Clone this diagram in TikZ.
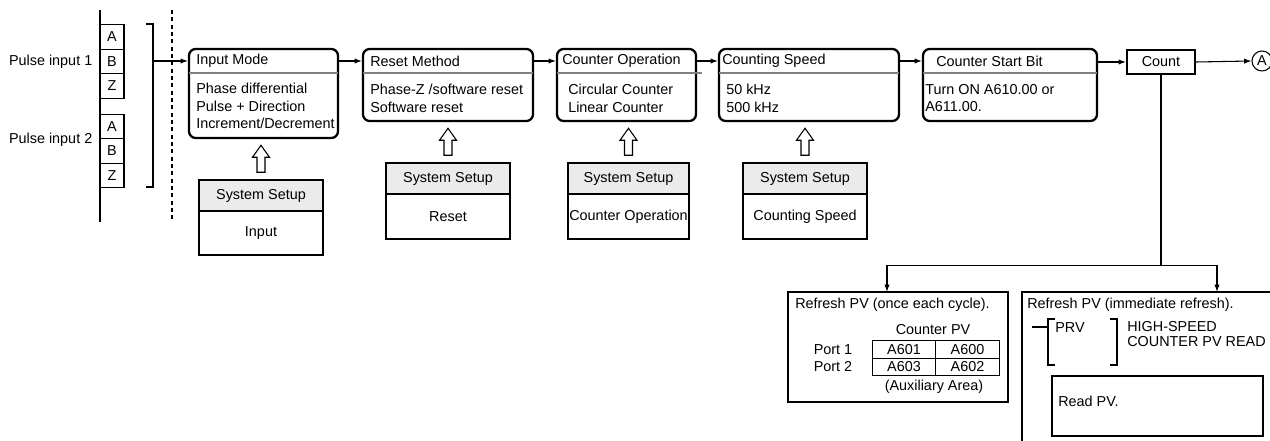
\documentclass[tikz,border=0pt]{standalone}
\usepackage{fontspec}
\setmainfont{Liberation Sans}
\usetikzlibrary{arrows.meta,fit}

\begin{document}
\begin{tikzpicture}[x=0.75pt, y=-0.75pt, >={Latex[length=5.5pt,width=4pt]},
    every node/.style={font=\fontsize{10.8}{13.1}\selectfont},
    modebox/.style={draw, line width=1.7pt, rounded corners=5pt, inner sep=0pt},
    divider/.style={black!50, line width=1.2pt},
    setupbox/.style={draw, line width=1.1pt, inner sep=0pt},
    cell/.style={draw, line width=0.8pt, minimum width=18pt, minimum height=18.4pt, inner sep=0pt},
    tcell/.style={draw, line width=0.8pt, minimum width=47.5pt, minimum height=13.1pt, inner sep=0pt},
    pvbox/.style={draw, line width=1.8pt, inner sep=0pt},
    link/.style={->, line width=0.8pt},
    txt/.style={anchor=west, inner sep=0pt},
    body/.style={anchor=north west, inner sep=0pt, align=left}]
    \useasboundingbox (0,0) rectangle (1270,441);

    % pulse inputs
    \draw[line width=1.1pt] (100,10) -- (100,222);
    \foreach \ch [count=\i] in {A,B,Z} {
        \node[cell] (pa\i) at (112,{12.5+24.5*\i}) {\ch};
        \node[cell] (pb\i) at (112,{102+24.5*\i}) {\ch};
    }
    \node[anchor=east] (pin1) at (97,62) {Pulse input 1};
    \node[anchor=east] (pin2) at (97,140) {Pulse input 2};
    \draw[line width=0.8pt] (146,24) -- (153,24) -- (153,187) -- (146,187);
    \coordinate (brk) at (153,61);
    \draw[line width=1pt, dash pattern=on 3pt off 2.5pt] (172,10) -- (172,222);

    % setting boxes
    \node[modebox, fit={(189,49) (338,138)}] (mode) {};
    \draw[divider] (189,73) -- (338,73);
    \node[txt] (modeT) at (196,61) {Input Mode};
    \node[body] (modeB) at (196,83) {Phase differential\\Pulse + Direction\\Increment/Decrement};

    \node[modebox, fit={(363,49) (533,121)}] (reset) {};
    \draw[divider] (363,73) -- (533,73);
    \node[txt] (resetT) at (370,61) {Reset Method};
    \node[body] (resetB) at (370,84) {Phase-Z /software reset\\Software reset};

    \node[modebox, fit={(557,49) (696,121)}] (oper) {};
    \draw[divider] (557,73) -- (702,73);
    \node[txt] (operT) at (562,61) {Counter Operation};
    \node[body] (operB) at (568,84) {Circular Counter\\Linear Counter};

    \node[modebox, fit={(719,49) (899,121)}] (speed) {};
    \draw[divider] (719,73) -- (899,73);
    \node[txt] (speedT) at (722,61) {Counting Speed};
    \node[body] (speedB) at (726,84) {50 kHz\\500 kHz};

    \node[modebox, fit={(923,49) (1097,121)}] (start) {};
    \draw[divider] (923,73) -- (1097,73);
    \node[txt] (startT) at (936,61) {Counter Start Bit};
    \node[body] (startB) at (925,84) {Turn ON A610.00 or\\A611.00.};

    \node[draw, line width=1.7pt, minimum width=51pt, minimum height=18pt, inner sep=0pt] (count) at (1161,62) {Count};
    \node[draw, circle, line width=0.8pt, minimum size=15pt, inner sep=0pt] (conA) at (1262,61) {A};

    % flow
    \draw[link] (brk) -- (mode.west |- brk);
    \draw[link] (mode.east |- brk) -- (reset.west |- brk);
    \draw[link] (reset.east |- brk) -- (oper.west |- brk);
    \draw[link] (oper.east |- brk) -- (speed.west |- brk);
    \draw[link] (speed.east |- brk) -- (start.west |- brk);
    \draw[link] (start.east |- count.west) -- (count.west);
    \draw[link] (count.east) -- (conA.west);

    % system setup
    \foreach \n/\xa/\xb/\ya/\yb/\lbl in {sysI/199/323/180/255/Input, sysR/386/510/163/239/Reset,
        sysC/568/689/163/239/Counter Operation, sysS/743/867/163/239/Counting Speed} {
        \fill[black!8] (\xa,\ya) rectangle (\xb,\ya+31);
        \node[setupbox, fit={(\xa,\ya) (\xb,\yb)}] (\n) {};
        \draw[line width=1.1pt] (\xa,\ya+31) -- (\xb,\ya+31);
        \node (\n H) at ({(\xa+\xb)/2},{\ya+15.5}) {System Setup};
        \node (\n L) at ({(\xa+\xb)/2},{(\ya+31+\yb)/2}) {\lbl};
        \draw[line width=0.8pt, fill=white, shift={(\n.north)}]
            (-4,-7) -- (-4,-22) -- (-8.5,-22) -- (0,-34) -- (8.5,-22) -- (4,-22) -- (4,-7) -- cycle;
    }

    % refresh
    \path (count.south) ++(0,190) coordinate (split);
    \coordinate (dropL) at (887,292);
    \coordinate (dropR) at (1217,292);
    \draw[line width=0.8pt] (count.south) -- (split);
    \draw[link] (split) -| (dropL);
    \draw[link] (split) -| (dropR);

    \node[pvbox, fit={(788,292) (1008,402)}] (pvcyc) {};
    \node[txt] (cycT) at (795,305) {Refresh PV (once each cycle).};
    \node (cpv) at (933,330) {Counter PV};
    \node (port1) at (833,350) {Port 1};
    \node (port2) at (833,367) {Port 2};
    \foreach \t/\x/\y [count=\k] in {A601/904/349.5, A600/967.5/349.5, A603/904/367, A602/967.5/367}
        \node[tcell] (t\k) at (\x,\y) {\t};
    \node (aux) at (934,387) {(Auxiliary Area)};

    \draw[line width=1.8pt] (1022,442) -- (1022,292) -- (1271,292);
    \node[txt] (immT) at (1027,305) {Refresh PV (immediate refresh).};
    \draw[line width=0.8pt] (1032,327) -- (1048,327);
    \draw[line width=0.8pt] (1055,319) -- (1048,319) -- (1048,365) -- (1055,365);
    \draw[line width=0.8pt] (1110,319) -- (1117,319) -- (1117,365) -- (1110,365);
    \node[txt] (prv) at (1055,328) {PRV};
    \node[body, font=\fontsize{10.8}{11.3}\selectfont] (hsc) at (1127,321) {HIGH-SPEED\\COUNTER PV READ};
    \node[draw, line width=0.9pt, inner sep=0pt, fit={(1052,376) (1263,436)}] (readbox) {};
    \node[txt] (readT) at (1058,401) {Read PV.};
\end{tikzpicture}
\end{document}
